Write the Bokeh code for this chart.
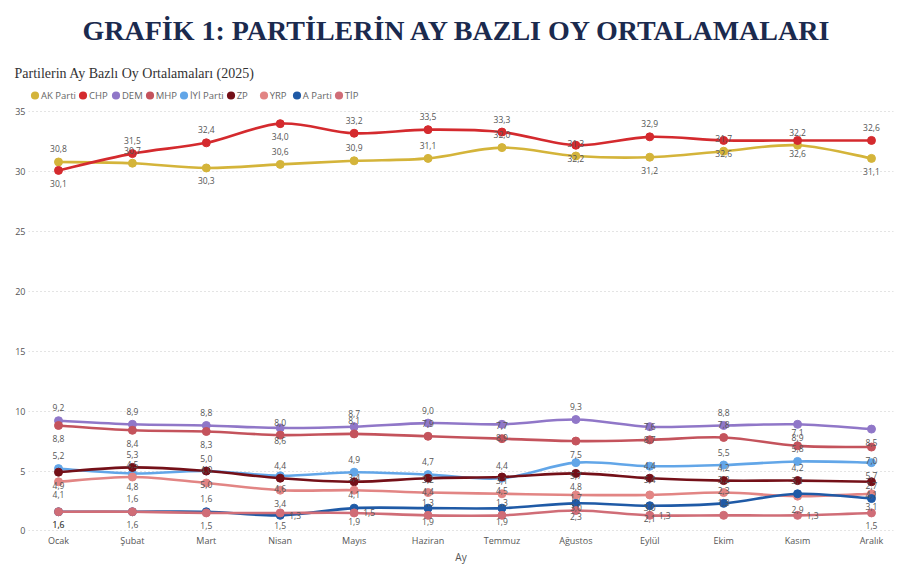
from bokeh.plotting import figure
from bokeh.layouts import column
from bokeh.models import (ColumnDataSource, LabelSet, Legend, LegendItem, Title,
                          FixedTicker, Range1d)
from bokeh.core.properties import value
from bokeh.embed import file_html
from bokeh.resources import INLINE

# ---------------- data ----------------
months = ["Ocak", "Şubat", "Mart", "Nisan", "Mayıs", "Haziran", "Temmuz",
          "Ağustos", "Eylül", "Ekim", "Kasım", "Aralık"]
parties = ["AK Parti", "CHP", "DEM", "MHP", "İYİ Parti", "ZP", "YRP", "A Parti", "TİP"]

ak_parti = [30.8, 30.7, 30.3, 30.6, 30.9, 31.1, 32.0, 31.3, 31.2, 31.7, 32.2, 31.1]
chp      = [30.1, 31.5, 32.4, 34.0, 33.2, 33.5, 33.3, 32.2, 32.9, 32.6, 32.6, 32.6]
dem      = [9.2, 8.9, 8.8, 8.6, 8.7, 9.0, 8.9, 9.3, 8.7, 8.8, 8.9, 8.5]
mhp      = [8.8, 8.4, 8.3, 8.0, 8.1, 7.9, 7.7, 7.5, 7.6, 7.8, 7.1, 7.0]
iyi      = [5.2, 4.8, 5.0, 4.6, 4.9, 4.7, 4.4, 5.7, 5.4, 5.5, 5.8, 5.7]
zp       = [4.9, 5.3, 5.0, 4.4, 4.1, 4.4, 4.5, 4.8, 4.4, 4.2, 4.2, 4.1]
yrp      = [4.1, 4.5, 4.0, 3.4, 3.4, 3.2, 3.1, 3.0, 3.0, 3.2, 2.9, 3.1]
a_parti  = [1.6, 1.6, 1.6, 1.3, 1.9, 1.9, 1.9, 2.3, 2.1, 2.3, 3.1, 2.7]
tip      = [1.6, 1.6, 1.5, 1.5, 1.5, 1.3, 1.3, 1.7, 1.3, 1.3, 1.3, 1.5]

y_ticks = [0, 5, 10, 15, 20, 25, 30, 35]

title_text = "GRAFİK 1: PARTİLERİN AY BAZLI OY ORTALAMALARI"
subtitle_text = "Partilerin Ay Bazlı Oy Ortalamaları (2025)"
x_axis_title = "Ay"

# ---------------- styles (kept apart from data) ----------------
colors = ["#D4B43A", "#D42A2E", "#9077C8", "#C4535C", "#62A6E8",
          "#741018", "#E28584", "#1F5AA6", "#D06D77"]
# label placement per point: u = above, d = below, r = right
label_pos = [
    "uuduuuuuduud",
    "duuduuududdu",
    "uuuduudududd",
    "ddduuuuduuud",
    "uddduuudduud",
    "duuudddduuud",
    "duuduuuddudd",
    "duurddddduuu",
    "ddddruuururd",
]

series = [ak_parti, chp, dem, mhp, iyi, zp, yrp, a_parti, tip]

FONT = "Open Sans"
HEADER_H = 104
LEFT = 28          # left border shared by both stacked figures

xs = list(range(len(months)))

# ---------------- header: title, subtitle, legend ----------------
head = figure(width=900, height=HEADER_H, output_backend="svg", toolbar_location=None,
              x_range=Range1d(-1, 0), y_range=Range1d(-1, 0),
              x_axis_type=None, y_axis_type=None, min_border=0,
              min_border_left=LEFT, min_border_right=7)
head.outline_line_color = None
head.xgrid.grid_line_color = None
head.ygrid.grid_line_color = None

legend_items = []
for name, vals, col in zip(parties, series, colors):
    # legend proxy: same data, lies outside the header's visible range
    r = head.scatter(x=xs, y=vals, size=8, fill_color=col, line_color=col, line_width=3)
    legend_items.append(LegendItem(label=name, renderers=[r]))
legend = Legend(items=legend_items, orientation="horizontal", location=(0, 2),
                label_text_font=FONT, label_text_font_size="9.5px",
                label_text_color="#666666", glyph_width=13, glyph_height=14,
                label_standoff=0, spacing=0, padding=0, margin=0,
                border_line_color=None, background_fill_alpha=0)
head.add_layout(legend)

head.add_layout(Title(text=subtitle_text, align="left", offset=14 - LEFT,
                      text_font="Liberation Serif", text_font_size="14px",
                      text_font_style="normal", text_color="#333333", standoff=10), "above")
head.add_layout(Title(text=title_text, align="left", offset=82 - LEFT,
                      text_font="Liberation Serif", text_font_size="28px",
                      text_font_style="bold", text_color="#1B2A4E", standoff=25), "above")

# ---------------- main chart ----------------
p = figure(width=900, height=566 - HEADER_H, output_backend="svg", toolbar_location=None,
           x_range=Range1d(-0.406, 11.298), y_range=Range1d(-0.05, 35.6),
           min_border_left=LEFT, min_border_right=7, min_border_bottom=32,
           min_border_top=0)
p.outline_line_color = None
p.background_fill_color = "white"
p.border_fill_color = "white"

p.xgrid.grid_line_color = None
p.ygrid.ticker = FixedTicker(ticks=y_ticks)
p.ygrid.grid_line_color = "#c8c8c8"
p.ygrid.grid_line_dash = "1 3"
p.ygrid.grid_line_width = 1

p.yaxis.ticker = FixedTicker(ticks=y_ticks)
p.xaxis.ticker = FixedTicker(ticks=xs)
p.xaxis.major_label_overrides = {i: m for i, m in enumerate(months)}
for ax in (p.xaxis[0], p.yaxis[0]):
    ax.axis_line_color = None
    ax.major_tick_line_color = None
    ax.minor_tick_line_color = None
    ax.major_tick_out = 0
    ax.major_tick_in = 0
    ax.minor_tick_out = 0
    ax.minor_tick_in = 0
    ax.major_label_text_font = FONT
    ax.major_label_text_font_size = "9px"
    ax.major_label_text_color = "#555555"
p.yaxis.major_label_standoff = 3
p.xaxis.major_label_standoff = 2
p.xaxis.axis_label = x_axis_title
p.xaxis.axis_label_text_font = FONT
p.xaxis.axis_label_text_font_size = "10px"
p.xaxis.axis_label_text_font_style = "normal"
p.xaxis.axis_label_text_color = "#555555"
p.xaxis.axis_label_standoff = 0


def bezier_parts(xv, yv):
    n = len(xv)
    out = dict(x0=[], y0=[], x1=[], y1=[], cx0=[], cy0=[], cx1=[], cy1=[])
    for i in range(n - 1):
        xp = xv[i - 1] if i > 0 else xv[i]
        yp = yv[i - 1] if i > 0 else yv[i]
        xn = xv[i + 2] if i + 2 < n else xv[i + 1]
        yn = yv[i + 2] if i + 2 < n else yv[i + 1]
        out["x0"].append(xv[i]); out["y0"].append(yv[i])
        out["x1"].append(xv[i + 1]); out["y1"].append(yv[i + 1])
        out["cx0"].append(xv[i] + (xv[i + 1] - xp) / 6.0)
        out["cy0"].append(yv[i] + (yv[i + 1] - yp) / 6.0)
        out["cx1"].append(xv[i + 1] - (xn - xv[i]) / 6.0)
        out["cy1"].append(yv[i + 1] - (yn - yv[i]) / 6.0)
    return out


for name, vals, col, pos in zip(parties, series, colors, label_pos):
    bz = ColumnDataSource(bezier_parts(xs, vals))
    p.bezier(x0="x0", y0="y0", x1="x1", y1="y1", cx0="cx0", cy0="cy0",
             cx1="cx1", cy1="cy1", source=bz, line_color=col, line_width=2.6)
    src = ColumnDataSource(dict(
        x=xs, y=vals,
        t=[f"{v:.1f}".replace(".", ",") for v in vals],
        xo=[15 if c == "r" else 0 for c in pos],
        yo=[13 if c == "u" else (-13 if c == "d" else 0) for c in pos],
    ))
    p.scatter("x", "y", source=src, size=8, fill_color=col, line_color=col)
    p.add_layout(LabelSet(x="x", y="y", text="t", x_offset="xo", y_offset="yo",
                          source=src, text_align="center", text_baseline="middle",
                          text_font=value(FONT), text_font_size="8.5px",
                          text_color="#555555"))

layout = column(head, p, spacing=0)
open("out.html", "w").write(file_html(layout, INLINE))
